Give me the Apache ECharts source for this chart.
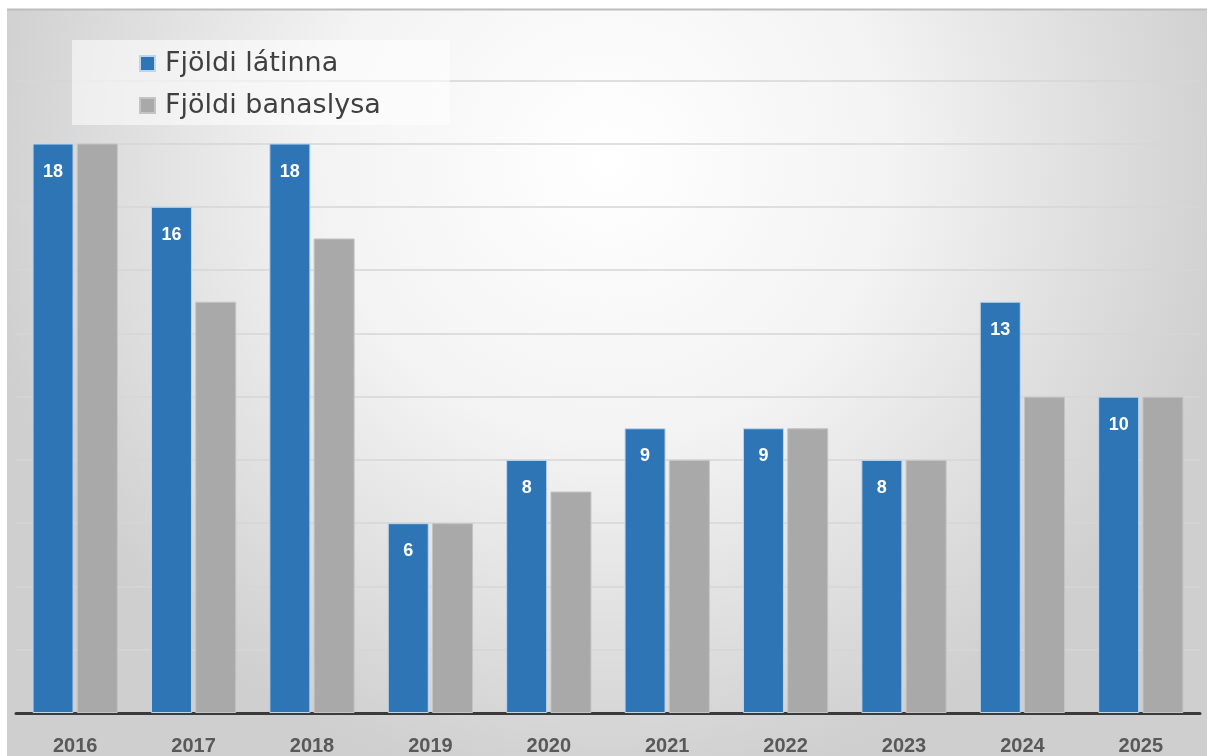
<!DOCTYPE html>
<html>
<head>
<meta charset="utf-8">
<script src="https://cdn.jsdelivr.net/npm/echarts@6/dist/echarts.min.js"></script>
<style>
html,body{margin:0;padding:0;background:#fff;}
#chart{width:1214px;height:756px;}
</style>
</head>
<body>
<div id="chart"></div>
<script>
const categories = ['2016','2017','2018','2019','2020','2021','2022','2023','2024','2025'];
const latinna = [18,16,18,6,8,9,9,8,13,10];
const banaslys = [18,13,15,6,7,8,9,8,10,10];
const seriesNames = ['Fjöldi látinna','Fjöldi banaslysa'];

const gridColors = [];
for (let i = 0; i < 11; i++) gridColors.push('#d6d6d6');
gridColors.push('rgba(0,0,0,0)');

const chart = echarts.init(document.getElementById('chart'), null, {renderer:'canvas'});
chart.setOption({
  backgroundColor: '#ffffff',
  animation: false,
  graphic: [
    {
      type: 'rect', left: 7, top: 9, z: -10, silent: true,
      shape: {width: 1200, height: 747},
      style: {
        fill: new echarts.graphic.RadialGradient(0.5, 0.2, 0.85, [
          {offset: 0, color: '#ffffff'},
          {offset: 0.45, color: '#f3f3f3'},
          {offset: 1, color: '#cfcfcf'}
        ])
      }
    },
    {
      type: 'line', z: -9, silent: true,
      shape: {x1: 7, y1: 9.5, x2: 1207, y2: 9.5},
      style: {stroke: '#bdbdbd', lineWidth: 2}
    }
  ],
  legend: {
    data: seriesNames,
    orient: 'vertical',
    left: 72, top: 40,
    padding: [10, 69, 6, 67],
    backgroundColor: 'rgba(255,255,255,0.55)',
    itemGap: 15,
    itemWidth: 15, itemHeight: 15,
    icon: 'rect',
    textStyle: {fontFamily: 'DejaVu Sans', fontSize: 27, color: '#404040', padding: [0, 0, 0, 5]}
  },
  grid: {left: 16, right: 14, top: 17, bottom: 43, containLabel: false},
  xAxis: {
    type: 'category',
    data: categories,
    axisLine: {lineStyle: {color: '#3a3a3a', width: 3}},
    axisTick: {show: false},
    axisLabel: {fontFamily: 'Liberation Sans', fontWeight: 'bold', fontSize: 20, color: '#595959', margin: 23}
  },
  yAxis: {
    type: 'value',
    min: 0, max: 22, interval: 2,
    axisLabel: {show: false},
    axisLine: {show: false},
    axisTick: {show: false},
    splitLine: {lineStyle: {color: gridColors, width: 1.5}}
  },
  series: [
    {
      name: seriesNames[0], type: 'bar', data: latinna,
      barWidth: 41, barGap: '8%',
      itemStyle: {color: '#2e75b6', borderColor: '#bcd6ee', borderWidth: 1},
      label: {show: true, position: 'insideTop', distance: 19, color: '#ffffff',
        fontFamily: 'Liberation Sans', fontWeight: 'bold', fontSize: 18}
    },
    {
      name: seriesNames[1], type: 'bar', data: banaslys,
      barWidth: 41,
      itemStyle: {color: '#a9a9a9', borderColor: '#c4c4c4', borderWidth: 1}
    }
  ]
});
</script>
</body>
</html>
